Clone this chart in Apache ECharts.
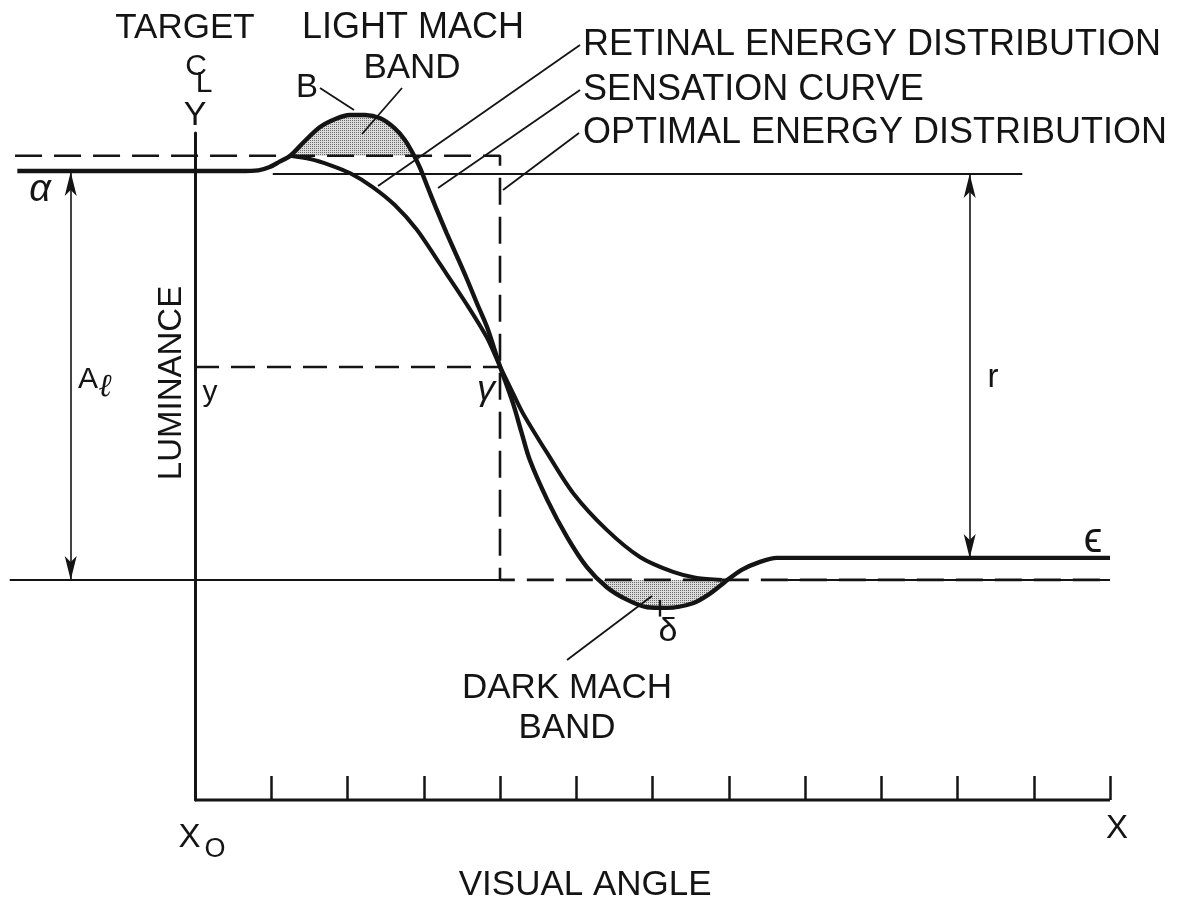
<!DOCTYPE html>
<html>
<head>
<meta charset="utf-8">
<title>Mach bands</title>
<script src="https://cdn.jsdelivr.net/npm/echarts@6/dist/echarts.min.js"></script>
<style>
  html, body { margin: 0; padding: 0; background: #fff; }
  #chart { width: 1178px; height: 901px; }
</style>
</head>
<body>
<div id="chart"></div>
<script>
// visual angle in tick units (x0 = 0, X = 12), luminance in arbitrary units
const sensationX = [-2.33, 0.59, 0.83, 0.98, 1.11, 1.25, 1.44, 1.64, 1.84, 2.03, 2.23, 2.43, 2.62, 2.75, 2.86, 2.95,
  3.04, 3.17, 3.30, 3.44, 3.57, 3.70, 3.83, 4.00, 4.17, 4.28, 4.39, 4.62, 4.88, 5.14, 5.40, 5.67, 5.93, 6.19,
  6.53, 6.75, 6.95, 7.17, 7.41, 7.63, 7.93, 12.0]
const sensationY = [94.3, 94.3, 94.4, 94.9, 95.7, 96.6, 98.8, 100.9, 102.1, 102.7, 102.7, 102.2, 100.7, 99.0, 96.9, 94.8,
  92.2, 88.5, 85.0, 81.4, 78.0, 74.4, 70.9, 65.0, 59.5, 55.2, 51.0, 45.0, 39.4, 34.9, 31.9, 30.0, 28.9, 28.8,
  29.5, 30.9, 32.7, 34.5, 35.7, 36.3, 36.3, 36.3]

const retinalX = [1.25, 1.51, 1.77, 2.03, 2.33, 2.62, 2.91, 3.21, 3.57, 3.83, 4.00, 4.17, 4.30, 4.62, 4.96,
  5.40, 5.84, 6.27, 6.58, 6.91]
const retinalY = [96.6, 96.1, 95.2, 94.0, 91.9, 89.2, 85.5, 80.4, 74.2, 69.3, 65.0, 61.0, 58.0, 52.0, 46.0,
  40.5, 36.4, 34.2, 33.3, 33.0]

const optimalX = [-2.36, 4, 4, 12]
const optimalY = [96.6, 96.6, 33.0, 33.0]

const tickValues = [0, 1, 2, 3, 4, 5, 6, 7, 8, 9, 10, 11, 12]
const tickLabels = { 0: '{x|X}{s|O}', 12: '{x|X}' }

// levels and markers
const highLevel = 96.6
const lowLevel = 33.0
const sensedHigh = 93.85
const sensedLow = 36.3
const gamma = [4, 65.0]
const lightBandX = [1.25, 2.86]
const darkBandX = [5.31, 6.93]
const peakB = [2.12, 104.5, 101.2]
const troughD = [6.10, 30.0, 27.5]
const amplitudeX = -1.63
const responseX = 10.16

const ink = '#141414'
const face = '"Liberation Sans", Arial, sans-serif'

function pair(xs, ys) {
  return xs.map((x, i) => [x, ys[i]])
}

function bandData(edges, level) {
  const pts = pair(sensationX, sensationY).filter(p => p[0] > edges[0] && p[0] < edges[1])
  return [[edges[0], level]].concat(pts, [[edges[1], level]])
}

function stipple() {
  const c = document.createElement('canvas')
  c.width = 2
  c.height = 2
  const ctx = c.getContext('2d')
  ctx.fillStyle = '#dcdcdc'
  ctx.fillRect(0, 0, 2, 2)
  ctx.fillStyle = '#6a6a6a'
  ctx.fillRect(0, 0, 1, 1)
  return c
}

function text(str, x, y, size, extra) {
  return Object.assign({
    type: 'text', x: x, y: y, z: 10,
    style: Object.assign({
      text: str, fontSize: size, fontFamily: face, fill: ink,
      align: 'center', verticalAlign: 'middle'
    }, extra && extra.style)
  }, extra && extra.el)
}

function leader(x1, y1, x2, y2) {
  return { type: 'line', z: 10, shape: { x1, y1, x2, y2 }, style: { stroke: ink, lineWidth: 1.8 } }
}

function seg(x1, y1, x2, y2, extra) {
  return [Object.assign({ coord: [x1, y1] }, extra), { coord: [x2, y2] }]
}

const arrowEnds = { symbol: 'arrow', symbolSize: [9, 24] }

const chart = echarts.init(document.getElementById('chart'))

chart.setOption({
  animation: false,
  backgroundColor: '#fff',
  grid: { left: 4.375, right: 68, top: 133, bottom: 101, containLabel: false, outerBoundsMode: 'none' },
  xAxis: {
    type: 'value', min: -2.5, max: 12,
    name: 'VISUAL ANGLE', nameLocation: 'middle', nameGap: 64,
    nameTextStyle: { fontSize: 35, fontFamily: face, color: ink, padding: [0, 0, 0, 56] },
    axisLine: { show: false },
    axisTick: { inside: true, length: 24, customValues: tickValues, lineStyle: { color: ink, width: 2.5 } },
    splitLine: { show: false },
    axisLabel: {
      margin: 12, hideOverlap: false, customValues: [0, 12],
      formatter: v => tickLabels[v] || '',
      rich: {
        x: { fontSize: 33, fontFamily: face, color: ink, padding: [0, 0, 0, 14] },
        s: { fontSize: 27, fontFamily: face, color: ink, padding: [24, 0, 0, 4] }
      }
    }
  },
  yAxis: {
    type: 'value', min: 0, max: 100,
    name: 'Y', nameLocation: 'end', nameGap: 0,
    nameTextStyle: { fontSize: 34, fontFamily: face, color: ink },
    axisLine: { show: true, onZero: true, lineStyle: { color: ink, width: 3 } },
    axisTick: { show: false },
    axisLabel: { show: false },
    splitLine: { show: false }
  },
  series: [
    {
      name: 'light band', type: 'line', data: bandData(lightBandX, highLevel), clip: false, z: 1,
      smooth: 0.3, showSymbol: false, lineStyle: { width: 0 },
      areaStyle: { origin: highLevel, opacity: 1, color: { image: stipple(), repeat: 'repeat' } }
    },
    {
      name: 'dark band', type: 'line', data: bandData(darkBandX, lowLevel), clip: false, z: 1,
      smooth: 0.3, showSymbol: false, lineStyle: { width: 0 },
      areaStyle: { origin: lowLevel, opacity: 1, color: { image: stipple(), repeat: 'repeat' } }
    },
    {
      name: 'x axis', type: 'line', data: [[tickValues[0], 0], [tickValues[tickValues.length - 1], 0]],
      clip: false, z: 2, showSymbol: false, lineStyle: { color: ink, width: 3 }
    },
    {
      name: 'optimal energy distribution', type: 'line', data: pair(optimalX, optimalY), clip: false, z: 2,
      showSymbol: false, lineStyle: { color: ink, width: 2.6, type: [27, 12] }
    },
    {
      name: 'retinal energy distribution', type: 'line', data: pair(retinalX, retinalY), clip: false, z: 3,
      smooth: 0.3, showSymbol: false, lineStyle: { color: ink, width: 4 }
    },
    {
      name: 'sensation curve', type: 'line', data: pair(sensationX, sensationY), clip: false, z: 3,
      smooth: 0.3, showSymbol: false, lineStyle: { color: ink, width: 4.4 }
    },
    {
      name: 'guides', type: 'line', data: [], clip: false, z: 2,
      markLine: {
        silent: true, animation: false, symbol: ['none', 'none'],
        label: { show: false },
        lineStyle: { color: ink, width: 2, type: 'solid' },
        data: [
          seg(1.02, sensedHigh, 10.85, sensedHigh),
          seg(-2.43, lowLevel, 4, lowLevel),
          seg(7.77, lowLevel, 12, lowLevel),
          seg(0, gamma[1], gamma[0], gamma[1], { lineStyle: { type: [24, 12], width: 2.4, color: ink } }),
          seg(peakB[0], peakB[1], peakB[0], peakB[2], { lineStyle: { width: 2.4, color: ink } }),
          seg(troughD[0], troughD[1], troughD[0], troughD[2], { lineStyle: { width: 2.4, color: ink } }),
          [Object.assign({ coord: [amplitudeX, 94.15], lineStyle: { width: 1.6, color: ink } }, arrowEnds),
            Object.assign({ coord: [amplitudeX, lowLevel] }, arrowEnds)],
          [Object.assign({ coord: [responseX, sensedHigh], lineStyle: { width: 1.6, color: ink } }, arrowEnds),
            Object.assign({ coord: [responseX, sensedLow] }, arrowEnds)]
        ]
      }
    }
  ],
  graphic: [
    text('TARGET', 185, 28, 35),
    text('LIGHT MACH', 413, 28, 36),
    text('BAND', 412, 68, 35),
    text('C', 196, 67, 30),
    text('L', 204, 84, 30),
    text('B', 307, 88, 33),
    leader(320, 88, 354, 110),
    leader(402, 88, 362, 134),
    text('RETINAL ENERGY DISTRIBUTION', 583, 45, 36, { style: { align: 'left' } }),
    text('SENSATION CURVE', 583, 90, 36, { style: { align: 'left' } }),
    text('OPTIMAL ENERGY DISTRIBUTION', 583, 133, 36, { style: { align: 'left' } }),
    leader(580, 45, 378, 186),
    leader(580, 90, 438, 188),
    leader(579, 133, 503, 190),
    text('α', 40, 190, 38, { style: { fontStyle: 'italic' } }),
    text('A', 88, 380, 30),
    text('ℓ', 105, 388, 32, { style: { fontFamily: '"DejaVu Serif", serif', fontStyle: 'italic' } }),
    text('LUMINANCE', 172, 383, 33, { el: { rotation: Math.PI / 2 } }),
    text('y', 210, 393, 30),
    text('γ', 486, 390, 36, { style: { fontStyle: 'italic' } }),
    text('r', 993, 378, 33),
    text('ϵ', 1093, 540, 42),
    text('δ', 668, 632, 34),
    leader(567, 660, 652, 596),
    text('DARK MACH', 567, 688, 35),
    text('BAND', 567, 728, 35)
  ]
})
</script>
</body>
</html>
